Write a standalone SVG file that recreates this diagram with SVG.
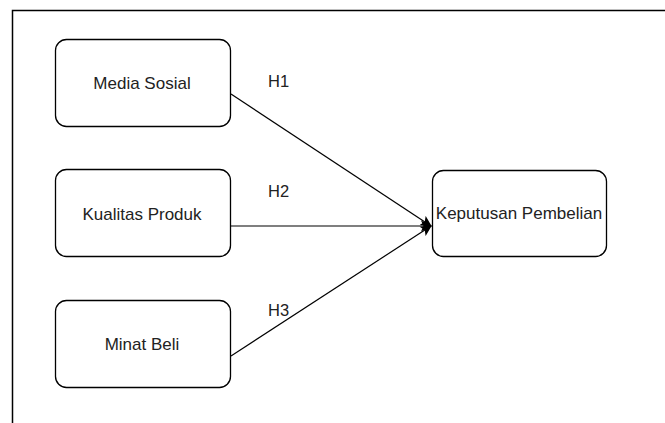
<svg xmlns="http://www.w3.org/2000/svg" width="665" height="423" viewBox="0 0 665 423">
<defs>
<style>
.box{fill:#fff;stroke:#000;stroke-width:1.3}
.t{font-family:"Liberation Sans",Arial,sans-serif;font-size:17px;fill:#222;text-anchor:middle}
.l{font-family:"Liberation Sans",Arial,sans-serif;font-size:16.5px;fill:#222}
.c{stroke:#000;stroke-width:1.2;fill:none}
</style>
<marker id="ah" markerWidth="12" markerHeight="12" refX="10" refY="6" orient="auto" markerUnits="userSpaceOnUse">
<path d="M0,0.5 L11,6 L0,11.5 L2.5,6 Z" fill="#000"/>
</marker>
</defs>
<rect width="665" height="423" fill="#fff"/>
<path d="M12.5,423 V10.5 H665" fill="none" stroke="#000" stroke-width="1.5"/>
<g id="connectors">
<path class="c" d="M231,94 L431,226" marker-end="url(#ah)"/>
<path class="c" d="M231,226 L431,226" marker-end="url(#ah)"/>
<path class="c" d="M231,356 L431,226" marker-end="url(#ah)"/>
<text class="l" x="268" y="87">H1</text>
<text class="l" x="268" y="197">H2</text>
<text class="l" x="268" y="316">H3</text>
</g>
<g id="media-sosial">
<rect class="box" x="55.5" y="39.5" width="175" height="87" rx="11"/>
<text class="t" x="142" y="88.5">Media Sosial</text>
</g>
<g id="kualitas-produk">
<rect class="box" x="55.5" y="169.5" width="175" height="87" rx="11"/>
<text class="t" x="142" y="220">Kualitas Produk</text>
</g>
<g id="minat-beli">
<rect class="box" x="55.5" y="300.5" width="175" height="87" rx="11"/>
<text class="t" x="142" y="350">Minat Beli</text>
</g>
<g id="keputusan-pembelian">
<rect class="box" x="432.5" y="170.5" width="174" height="86" rx="11"/>
<text class="t" x="519" y="219">Keputusan Pembelian</text>
</g>
</svg>
